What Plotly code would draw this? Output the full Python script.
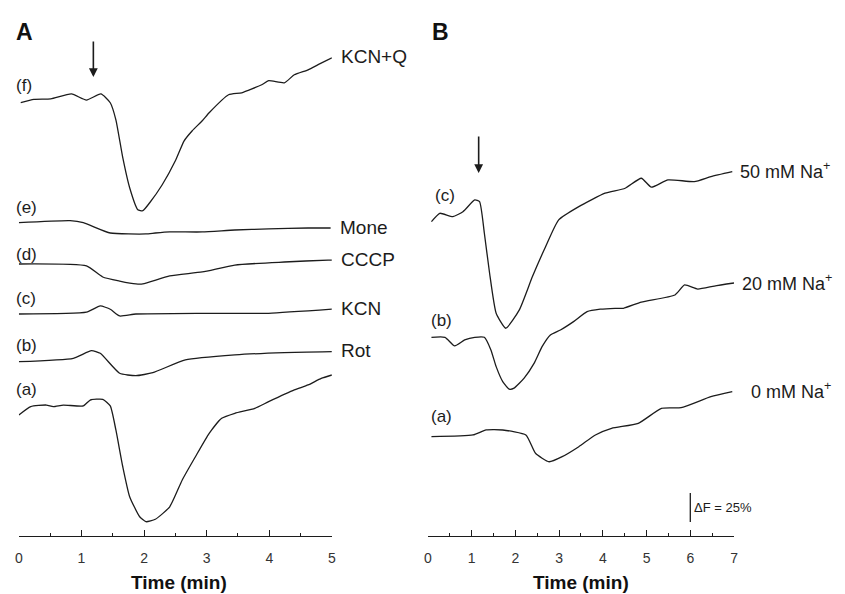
import plotly.graph_objects as go

# ---- Panel A: fluorescence traces (ΔF %, relative to each trace's start) ----
a_time = {
    "f": [0.03, 0.24, 0.51, 0.84, 1.08, 1.31, 1.46, 1.55, 1.66, 1.77, 1.90, 1.98, 2.09, 2.29,
          2.50, 2.64, 2.77, 2.93, 3.04, 3.35, 3.56, 3.88, 3.99, 4.24, 4.40, 4.62, 4.78, 5.00],
    "e": [0.0, 0.82, 1.03, 1.46, 2.03, 2.18, 2.41, 2.93, 3.45, 3.99, 4.62, 4.98],
    "d": [0.0, 1.08, 1.34, 1.61, 1.87, 1.98, 2.41, 2.93, 3.45, 4.24, 4.94, 5.0],
    "c": [0.0, 1.08, 1.30, 1.46, 1.61, 1.87, 2.93, 3.99, 5.0],
    "b": [0.0, 0.87, 1.16, 1.30, 1.61, 1.87, 2.14, 2.66, 3.45, 4.24, 5.0],
    "a": [0.0, 0.19, 0.44, 0.55, 0.71, 1.03, 1.14, 1.34, 1.46, 1.55, 1.66, 1.77, 1.93, 2.03,
          2.18, 2.41, 2.61, 2.82, 3.04, 3.24, 3.45, 3.77, 3.99, 4.40, 4.62, 4.83, 5.0],
}
a_signal = {
    "f": [0, 2.9, 3.4, 7.6, 2.3, 7.6, 0.0, -14.7, -47.4, -73.3, -92.2, -93.1, -86.2, -70.7,
          -50.0, -32.8, -24.1, -15.5, -8.6, 6.9, 8.6, 15.5, 19.0, 17.2, 24.1, 28.4, 32.8, 38.8],
    "e": [0, 1.7, 0, -8.9, -9.7, -8.9, -8.0, -8.0, -6.3, -5.4, -4.6, -4.6],
    "d": [0, -1.7, -11.2, -14.7, -17.2, -17.2, -10.3, -6.9, -0.9, 1.7, 3.4, 3.4],
    "c": [0, 1.5, 6.9, 4.1, -1.7, 0, 0.6, 0.6, 4.1],
    "b": [0, 2.9, 9.5, 7.2, -10.0, -12.1, -9.5, 1.5, 5.8, 7.8, 8.6],
    "a": [0, 7.2, 8.6, 7.2, 8.6, 7.8, 12.9, 13.5, 7.8, -12.9, -44.6, -70.4, -87.7, -92.0,
          -89.9, -79.1, -56.0, -36.0, -15.8, -2.8, 1.5, 5.8, 11.5, 21.6, 25.9, 31.6, 34.5],
}
a_offset = {"f": 373.5, "e": 270.1, "d": 234.5, "c": 191.4, "b": 150.3, "a": 104.3}
a_treatment = {"f": "KCN+Q", "e": "Mone", "d": "CCCP", "c": "KCN", "b": "Rot", "a": ""}

# ---- Panel B: Na+ dependence ----
b_time = {
    "c": [0.08, 0.27, 0.57, 0.80, 1.07, 1.18, 1.29, 1.41, 1.56, 1.78, 2.09, 2.39, 2.69, 2.99,
          3.45, 4.05, 4.51, 4.88, 5.11, 5.49, 6.09, 6.47, 6.96],
    "b": [0.08, 0.39, 0.61, 0.84, 1.07, 1.29, 1.44, 1.56, 1.71, 1.86, 1.97, 2.20, 2.43, 2.61,
          2.80, 3.03, 3.33, 3.64, 3.94, 4.28, 4.47, 4.88, 5.65, 5.87, 6.17, 6.55, 7.0],
    "a": [0.08, 1.03, 1.33, 1.71, 2.24, 2.46, 2.77, 3.07, 3.45, 3.83, 4.20, 4.81, 5.34, 5.79,
          6.47, 6.96],
}
b_signal = {
    "c": [0, 7.2, 4.3, 8.6, 18.7, 17.2, -10.0, -44.5, -79.0, -91.9, -76.1, -47.4, -21.6, 1.5,
          12.9, 24.5, 28.8, 37.4, 29.7, 36.0, 34.5, 38.8, 43.1],
    "b": [0, 0, -7.4, -2.3, 0, 0, -10.9, -25.3, -38.2, -44.7, -43.8, -35.2, -22.3, -8.1,
          2.0, 6.3, 13.5, 22.1, 24.2, 25.0, 25.0, 30.4, 36.5, 45.1, 41.6, 44.2, 46.8],
    "a": [0, 1.5, 5.8, 5.8, 1.5, -14.3, -21.6, -17.2, -8.6, 1.5, 7.2, 11.5, 24.4, 25.0,
          34.5, 38.8],
}
b_offset = {"c": 271.0, "b": 171.3, "a": 85.6}
b_sodium = {"c": "50", "b": "20", "a": "0"}

addition_time = [1.19, 1.16]     # arrow marks (panel A, panel B), min
scale_bar = 25                   # ΔF (%)
scale_bar_time = 6.0
scale_bar_base = 12.1

Y_TOP = 462.07
INK = "#1c1c1c"
SANS = "Liberation Sans, Arial, sans-serif"
line_style = dict(color=INK, width=1.3, shape="spline", smoothing=0.5)

fig = go.Figure()
annotations = []

for key in ["f", "e", "d", "c", "b", "a"]:
    y = [v + a_offset[key] for v in a_signal[key]]
    fig.add_trace(go.Scatter(x=a_time[key], y=y, mode="lines", line=line_style,
                             xaxis="x", yaxis="y", hoverinfo="skip", showlegend=False))
    if a_treatment[key]:
        annotations.append(dict(x=a_time[key][-1], y=y[-1], xref="x", yref="y",
                                text=a_treatment[key], showarrow=False, xanchor="left",
                                xshift=7, yshift=1, font=dict(family=SANS, size=19, color=INK)))

for key in ["c", "b", "a"]:
    y = [v + b_offset[key] for v in b_signal[key]]
    fig.add_trace(go.Scatter(x=b_time[key], y=y, mode="lines", line=line_style,
                             xaxis="x2", yaxis="y2", hoverinfo="skip", showlegend=False))
    annotations.append(dict(x=b_time[key][-1], y=y[-1], xref="x2", yref="y2",
                            text=f"{b_sodium[key]} mM Na<sup>+</sup>", showarrow=False,
                            xanchor="left", xshift=6 if key != "a" else 17, yshift=1,
                            font=dict(family=SANS, size=18, color=INK)))

# ΔF scale bar
fig.add_trace(go.Scatter(x=[scale_bar_time, scale_bar_time],
                         y=[scale_bar_base, scale_bar_base + scale_bar],
                         mode="lines", line=dict(color=INK, width=1.3),
                         xaxis="x2", yaxis="y2", hoverinfo="skip", showlegend=False))
annotations.append(dict(x=scale_bar_time, y=scale_bar_base + scale_bar / 2, xref="x2", yref="y2",
                        text=f"ΔF = {scale_bar}%", showarrow=False, xanchor="left", xshift=2,
                        font=dict(family=SANS, size=13, color=INK)))

# addition arrows
for xr, yr, t, top, tip in [("x", "y", addition_time[0], 427.6, 395.7),
                            ("x2", "y2", addition_time[1], 345.7, 312.9)]:
    annotations.append(dict(x=t, y=tip, ax=t, ay=top, xref=xr, yref=yr, axref=xr, ayref=yr,
                            text="", showarrow=True, arrowhead=2, arrowsize=1.1,
                            arrowwidth=1.6, arrowcolor=INK))

# trace letters, panel letters, axis titles (paper coordinates)
W, H = 845, 536
left_labels = [("(f)", 10, 85), ("(e)", 10, 207), ("(d)", 10, 254), ("(c)", 10, 298),
               ("(b)", 10, 346), ("(a)", 10, 389),
               ("(c)", 433, 195), ("(b)", 429, 320), ("(a)", 429, 416)]
for txt, px, py in left_labels:
    annotations.append(dict(x=px / W, y=(H - py) / H, xref="paper", yref="paper", text=txt,
                            showarrow=False, xanchor="left", yanchor="middle",
                            font=dict(family=SANS, size=17, color=INK)))
for txt, px in [("A", 10), ("B", 430)]:
    annotations.append(dict(x=px / W, y=(H - 32) / H, xref="paper", yref="paper",
                            text=f"<b>{txt}</b>", showarrow=False, xanchor="left",
                            yanchor="middle", font=dict(family=SANS, size=23, color="#111")))
for px in [177, 583]:
    annotations.append(dict(x=px / W, y=(H - 582) / H, xref="paper", yref="paper",
                            text="<b>Time (min)</b>", showarrow=False, xanchor="center",
                            yanchor="middle", font=dict(family=SANS, size=19, color="#111")))

axis_common = dict(showline=True, linecolor=INK, linewidth=1.2, ticks="inside", ticklen=6,
                   tickwidth=1.2, tickcolor=INK, tick0=0, dtick=1, showgrid=False,
                   zeroline=False, ticklabelstandoff=9,
                   tickfont=dict(family=SANS, size=14, color="#333"),
                   minor=dict(dtick=0.5, ticks="inside", ticklen=3, tickwidth=1.1,
                              tickcolor=INK, showgrid=False))
yaxis_common = dict(range=[0, Y_TOP], visible=False, domain=[0, 1])

fig.update_layout(
    width=845, height=594,
    margin=dict(l=0, r=0, t=0, b=58),
    paper_bgcolor="white", plot_bgcolor="white",
    xaxis=dict(domain=[15 / W, 331 / W], range=[0, 5], anchor="y", **axis_common),
    xaxis2=dict(domain=[428 / W, 737 / W], range=[0, 7], anchor="y2", **axis_common),
    yaxis=dict(anchor="x", **yaxis_common),
    yaxis2=dict(anchor="x2", **yaxis_common),
    annotations=annotations,
    showlegend=False,
)

fig.write_html("out.html")
